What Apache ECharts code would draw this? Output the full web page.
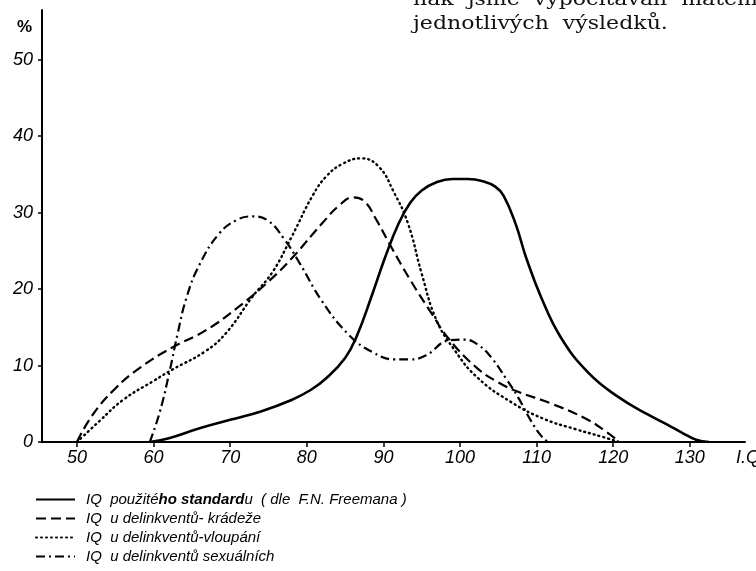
<!DOCTYPE html>
<html>
<head>
<meta charset="utf-8">
<script src="https://cdn.jsdelivr.net/npm/echarts@6/dist/echarts.min.js"></script>
<style>
html, body { margin: 0; padding: 0; background: #fff; }
#main { width: 756px; height: 571px; }
</style>
</head>
<body>
<div id="main"></div>
<script>
// osa x (I.Q) a osa y (%)
var xTicks = [50, 60, 70, 80, 90, 100, 110, 120, 130];
var yTicks = [0, 10, 20, 30, 40, 50];

var names = [
    'IQ použitého standardu (dle F.N. Freemana)',
    'IQ u delinkventů- krádeže',
    'IQ u delinkventů-vloupání',
    'IQ u delinkventů sexuálních'
];

// [IQ, %]
var standard = [
    [59.5, 0], [62, 0.5], [66, 1.8], [70, 2.9], [74, 4.0], [78, 5.5], [80.5, 6.8],
    [82.5, 8.3], [85, 11], [86.5, 13.8], [88.5, 19.2], [90.2, 24.1], [92, 28.6],
    [93.5, 31.3], [95, 32.9], [97, 34.0], [99, 34.4], [101, 34.4], [103, 34.1],
    [104.6, 33.4], [105.7, 32.2], [107.3, 28.4], [108.6, 24.2], [110.6, 18.9],
    [113.2, 13.6], [116.8, 9.0], [120.5, 6.0], [124.5, 3.6], [127, 2.3],
    [129, 1.2], [130.8, 0.3], [132.5, 0]
];
var kradeze = [
    [50, 0], [52, 3.5], [55, 7], [58.2, 9.7], [62.5, 12.4], [66.8, 14.6],
    [71, 17.6], [75, 21], [78.1, 24.1], [82, 28.6], [84.3, 31.0], [86, 32.0],
    [87.5, 31.5], [89, 29.2], [90.8, 25.9], [93.5, 21.2], [96.3, 16.8],
    [98.6, 13.4], [102.3, 9.6], [105, 7.8], [107.5, 6.6], [112, 5.0],
    [116.5, 3.0], [119, 1.4], [120.8, 0]
];
var vloupani = [
    [50, 0], [53, 2.8], [56, 5.5], [60, 8.0], [62.5, 9.5], [66.8, 11.9],
    [69.5, 14.3], [72.9, 19.0], [75.5, 22.2], [78, 26.8], [80.8, 32.3],
    [82.6, 34.8], [84.7, 36.4], [87.1, 37.1], [89.4, 36.0], [91.3, 32.8],
    [93.2, 28.6], [95, 22.0], [96.9, 16.0], [99.3, 12.0], [102.3, 8.4],
    [106.7, 5.2], [111, 3.0], [115, 1.7], [118.5, 0.7], [120.8, 0]
];
var sexualni = [
    [59.5, 0], [60.8, 3.9], [62.1, 9.3], [63.1, 14], [64.3, 18.9], [66, 23.2],
    [68.6, 27.3], [71, 29.1], [72.9, 29.5], [75, 28.9], [77, 26.6], [79, 23.5],
    [82, 18.4], [85.5, 14.0], [88.5, 11.8], [91.5, 10.8], [93.5, 10.8],
    [95.5, 11.3], [98.6, 13.3], [100.6, 13.4], [102.5, 12.6], [104.2, 10.9],
    [106, 8.3], [107.6, 5.8], [109.3, 2.7], [110.6, 0.8], [111.5, 0]
];

var data = [standard, kradeze, vloupani, sexualni];
var lineTypes = ['solid', [10, 5], [1, 4], [9, 4, 2, 4]];
var lineWidths = [2.6, 2.2, 2.4, 2.2];

var chart = echarts.init(document.getElementById('main'));

var lbl = {
    color: '#000',
    fontFamily: 'Liberation Sans',
    fontStyle: 'italic',
    fontSize: 18
};

var option = {
    backgroundColor: '#fff',
    animation: false,
    grid: { left: 42, right: 11, top: 10, bottom: 129 },
    xAxis: {
        type: 'value',
        min: 45.43,
        max: 137.2,
        splitLine: { show: false },
        axisLine: { lineStyle: { color: '#000', width: 2 } },
        axisTick: { show: true, length: 5, customValues: xTicks, lineStyle: { color: '#000', width: 1.5 } },
        axisLabel: Object.assign({ customValues: xTicks, margin: 7 }, lbl)
    },
    yAxis: {
        type: 'value',
        min: 0,
        max: 56.5,
        splitLine: { show: false },
        axisLine: { show: true, lineStyle: { color: '#000', width: 2 } },
        axisTick: { show: true, length: 4, customValues: yTicks, lineStyle: { color: '#000', width: 1.5 } },
        axisLabel: Object.assign({ customValues: yTicks, margin: 9 }, lbl)
    },
    legend: {
        orient: 'vertical',
        left: 35,
        top: 492,
        padding: 0,
        itemWidth: 39,
        itemHeight: 12,
        itemGap: 4,
        data: names,
        itemStyle: { opacity: 0, borderWidth: 0 },
        formatter: function(name) {
            if (name === names[0]) {
                return '{n|IQ  použité}{b|ho standard}{n|u  ( dle  F.N. Freemana )}';
            }
            return '{n|' + name.replace('IQ u', 'IQ  u') + '}';
        },
        textStyle: {
            padding: [0, 0, 0, 6],
            rich: {
                n: { fontFamily: 'Liberation Sans', fontStyle: 'italic', fontSize: 15, color: '#000', lineHeight: 16 },
                b: { fontFamily: 'Liberation Sans', fontStyle: 'italic', fontWeight: 'bold', fontSize: 15, color: '#000', lineHeight: 16 }
            }
        }
    },
    graphic: [
        { type: 'text', left: 17, top: 19, style: { text: '%', font: 'bold 17px "Liberation Sans"', fill: '#000' } },
        { type: 'text', left: 736, top: 449, style: { text: 'I.Q', font: 'italic 18px "Liberation Sans"', fill: '#000' } },
        { type: 'text', x: 413, y: -9, scaleX: 1.16, style: { text: 'nak  jsme  vypočítávali  matem', font: '19px "DejaVu Serif"', fill: '#111' } },
        { type: 'text', x: 413, y: 15, scaleX: 1.16, style: { text: 'jednotlivých  výsledků.', font: '19px "DejaVu Serif"', fill: '#111' } }
    ],
    series: (function() {
        var rt = [];
        data.forEach(function(d, i) {
            rt.push({
                name: names[i],
                type: 'line',
                data: d,
                smooth: 0.45,
                symbol: 'none',
                lineStyle: { color: '#000', width: lineWidths[i], type: lineTypes[i], cap: i === 2 ? 'round' : 'butt' },
                itemStyle: { color: '#000' }
            });
        });
        return rt;
    })()
};

chart.setOption(option);
</script>
</body>
</html>
